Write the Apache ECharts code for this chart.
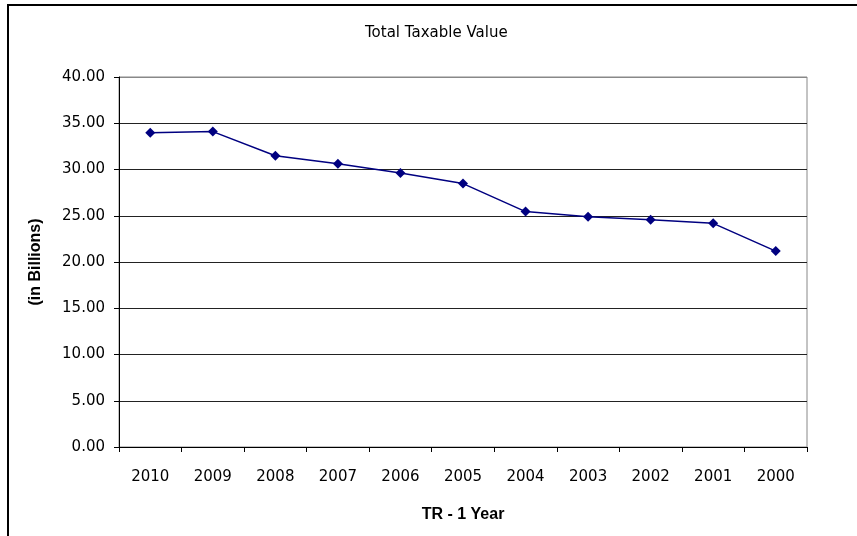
<!DOCTYPE html>
<html>
<head>
<meta charset="utf-8">
<script src="https://cdn.jsdelivr.net/npm/echarts@6/dist/echarts.min.js"></script>
<style>
html,body{margin:0;padding:0;background:#fff;}
#chart{width:857px;height:536px;}
</style>
</head>
<body>
<div id="chart"></div>
<script>
var titleText = "Total Taxable Value";
var categories = ["2010","2009","2008","2007","2006","2005","2004","2003","2002","2001","2000"];
var totalTaxableValue = [33.98, 34.10, 31.48, 30.63, 29.63, 28.48, 25.45, 24.88, 24.58, 24.18, 21.18];
var yAxisName = "(in Billions)";
var xAxisName = "TR - 1 Year";

var FONT = "DejaVu Sans";
var BFONT = "Liberation Sans";
var chart = echarts.init(document.getElementById('chart'), null, {renderer: 'canvas'});
chart.setOption({
  backgroundColor: '#ffffff',
  animation: false,
  title: {
    text: titleText,
    left: 365, top: 26, padding: 0,
    textStyle: {fontFamily: FONT, fontSize: 15, fontWeight: 'normal', color: '#000'}
  },
  grid: {
    left: 119, right: 50, top: 77, bottom: 89,
    show: true, borderColor: '#888', borderWidth: 1, backgroundColor: 'transparent'
  },
  graphic: [{
    type: 'rect', z: 100, silent: true,
    shape: {x: 8, y: 5, width: 870, height: 560},
    style: {fill: 'none', stroke: '#000', lineWidth: 2}
  }],
  xAxis: {
    type: 'category',
    data: categories,
    boundaryGap: true,
    name: xAxisName,
    nameLocation: 'middle',
    nameGap: 60,
    nameTextStyle: {fontFamily: BFONT, fontSize: 16, fontWeight: 'bold', color: '#000'},
    axisLine: {lineStyle: {color: '#000', width: 1}},
    axisTick: {show: true, interval: 0, length: 5, inside: false, alignWithLabel: false, lineStyle: {color: '#000'}},
    axisLabel: {interval: 0, margin: 23, fontFamily: FONT, fontSize: 15, color: '#000'},
    splitLine: {show: false}
  },
  yAxis: {
    type: 'value',
    min: 0, max: 40, interval: 5,
    name: yAxisName,
    nameLocation: 'middle',
    nameGap: 75,
    nameTextStyle: {fontFamily: BFONT, fontSize: 16, fontWeight: 'bold', color: '#000'},
    axisLine: {show: true, lineStyle: {color: '#000', width: 1}},
    axisTick: {show: true, length: 5, lineStyle: {color: '#000'}},
    axisLabel: {margin: 14, fontFamily: FONT, fontSize: 15, color: '#000', formatter: function(v){return v.toFixed(2);}},
    splitLine: {show: true, lineStyle: {color: ['#000','#222','#222','#222','#222','#222','#222','#222','#888'], width: 1}}
  },
  series: [{
    type: 'line',
    data: totalTaxableValue,
    symbol: 'diamond',
    symbolSize: 10,
    lineStyle: {color: '#000080', width: 1.5},
    itemStyle: {color: '#000080'},
    z: 5
  }]
});
</script>
</body>
</html>
